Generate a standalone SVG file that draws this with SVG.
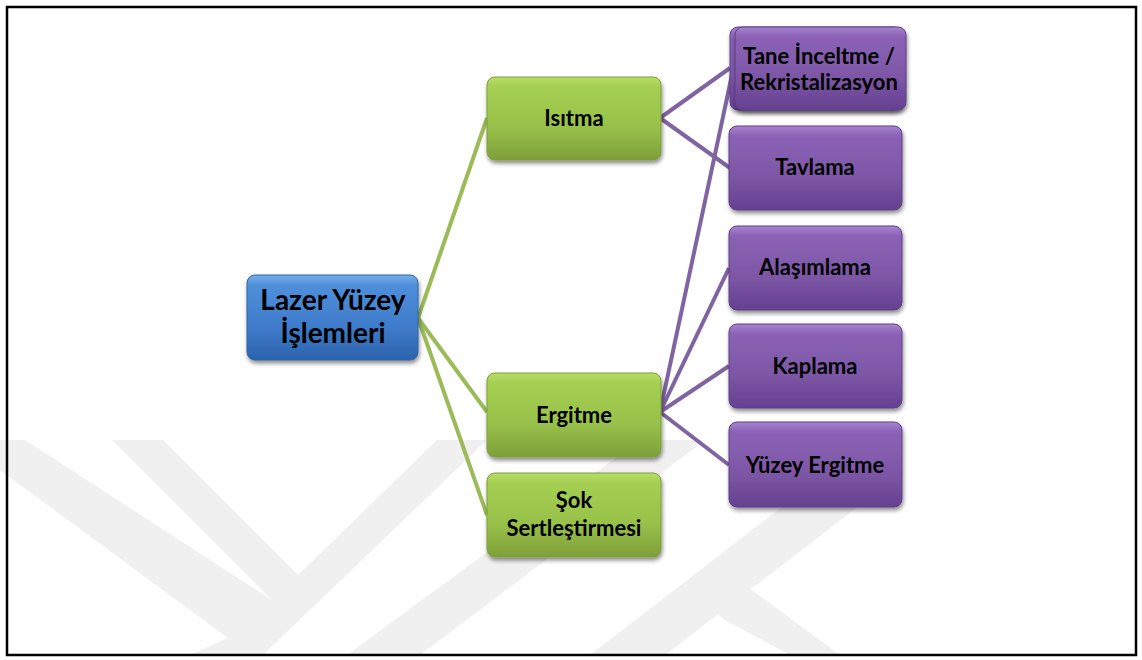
<svg xmlns="http://www.w3.org/2000/svg" width="1142" height="660" viewBox="0 0 1142 660">
<defs>
<linearGradient id="gGreen" x1="0" y1="0" x2="0" y2="1">
<stop offset="0" stop-color="#b7dc66"/>
<stop offset="0.12" stop-color="#a5cf52"/>
<stop offset="0.6" stop-color="#98c14a"/>
<stop offset="1" stop-color="#7e9f38"/>
</linearGradient>
<linearGradient id="gBlue" x1="0" y1="0" x2="0" y2="1">
<stop offset="0" stop-color="#78aee8"/>
<stop offset="0.12" stop-color="#4f8fda"/>
<stop offset="0.6" stop-color="#3f7ccb"/>
<stop offset="1" stop-color="#2c62ab"/>
</linearGradient>
<linearGradient id="gPurple" x1="0" y1="0" x2="0" y2="1">
<stop offset="0" stop-color="#a884cf"/>
<stop offset="0.12" stop-color="#8b62b6"/>
<stop offset="0.6" stop-color="#7d57a6"/>
<stop offset="1" stop-color="#654090"/>
</linearGradient>
<filter id="sh" x="-10%" y="-10%" width="125%" height="130%">
<feGaussianBlur in="SourceAlpha" stdDeviation="2"/>
<feOffset dx="1" dy="3" result="b"/>
<feComponentTransfer><feFuncA type="linear" slope="0.45"/></feComponentTransfer>
<feMerge><feMergeNode/><feMergeNode in="SourceGraphic"/></feMerge>
</filter>
</defs>
<style>
.wm{fill:#f0f0f0}
.g{fill:url(#gGreen);stroke:#7f9e3c;stroke-width:1;filter:url(#sh)}
.b{fill:url(#gBlue);stroke:#2f64a8;stroke-width:1;filter:url(#sh)}
.p{fill:url(#gPurple);stroke:#5e3f86;stroke-width:1;filter:url(#sh)}
.t{font-family:Lato,"Open Sans","Liberation Sans",sans-serif;font-weight:bold;font-size:22px;fill:#000;text-anchor:middle}
.tl{font-size:28px}
.cg{stroke:#9bbb59;stroke-width:4;fill:none}
.cp{stroke:#8064a2;stroke-width:4;fill:none}
</style>
<rect x="0" y="0" width="1142" height="660" fill="#fff"/>
<g id="watermark">
<polygon class="wm" points="0,440 25,440 272,600 112,440 163,440 298,575 437,440 487,440 263,655 190,655 228,638 0,470"/>
<polygon class="wm" points="347,655 420,655 705,440 640,440"/>
<polygon class="wm" points="590,655 665,655 880,490 830,470"/>
<polygon class="wm" points="700,600 725,620 790,655 840,655 745,585"/>
</g>
<rect x="7" y="7" width="1129" height="648" fill="none" stroke="#000" stroke-width="2.5"/>
<g id="connectors">
<line class="cg" x1="418" y1="318" x2="487" y2="118"/>
<line class="cg" x1="418" y1="318" x2="487" y2="412"/>
<line class="cg" x1="418" y1="318" x2="487" y2="515"/>
<line class="cp" x1="660" y1="118" x2="730" y2="68"/>
<line class="cp" x1="660" y1="118" x2="730" y2="168"/>
<line class="cp" x1="660" y1="412" x2="733" y2="70"/>
<line class="cp" x1="660" y1="412" x2="729" y2="268"/>
<line class="cp" x1="660" y1="412" x2="729" y2="366"/>
<line class="cp" x1="660" y1="412" x2="729" y2="465"/>
</g>
<g id="lazer">
<rect class="b" x="247" y="275" width="171" height="85" rx="8"/>
<text class="t tl" x="333" y="310">Lazer Yüzey</text>
<text class="t tl" x="333" y="343">İşlemleri</text>
</g>
<g id="isitma">
<rect class="g" x="487" y="77" width="174" height="83" rx="8"/>
<text class="t" x="574" y="126">Isıtma</text>
</g>
<g id="ergitme">
<rect class="g" x="487" y="373" width="174" height="84" rx="8"/>
<text class="t" x="574" y="423">Ergitme</text>
</g>
<g id="sok">
<rect class="g" x="487" y="473" width="174" height="84" rx="8"/>
<text class="t" x="574" y="508">Şok</text>
<text class="t" x="574" y="536">Sertleştirmesi</text>
</g>
<g id="tane">
<rect class="p" x="730" y="27" width="172" height="83" rx="8"/>
<rect class="p" x="735" y="27" width="171" height="83" rx="8"/>
<text class="t" x="819" y="64">Tane İnceltme /</text>
<text class="t" x="819" y="90">Rekristalizasyon</text>
</g>
<g id="tavlama">
<rect class="p" x="729" y="126" width="173" height="84" rx="8"/>
<text class="t" x="815" y="175">Tavlama</text>
</g>
<g id="alasimlama">
<rect class="p" x="729" y="226" width="173" height="84" rx="8"/>
<text class="t" x="815" y="275">Alaşımlama</text>
</g>
<g id="kaplama">
<rect class="p" x="729" y="324" width="173" height="84" rx="8"/>
<text class="t" x="815" y="374">Kaplama</text>
</g>
<g id="yuzey">
<rect class="p" x="729" y="422" width="173" height="85" rx="8"/>
<text class="t" x="815" y="473">Yüzey Ergitme</text>
</g>
</svg>
